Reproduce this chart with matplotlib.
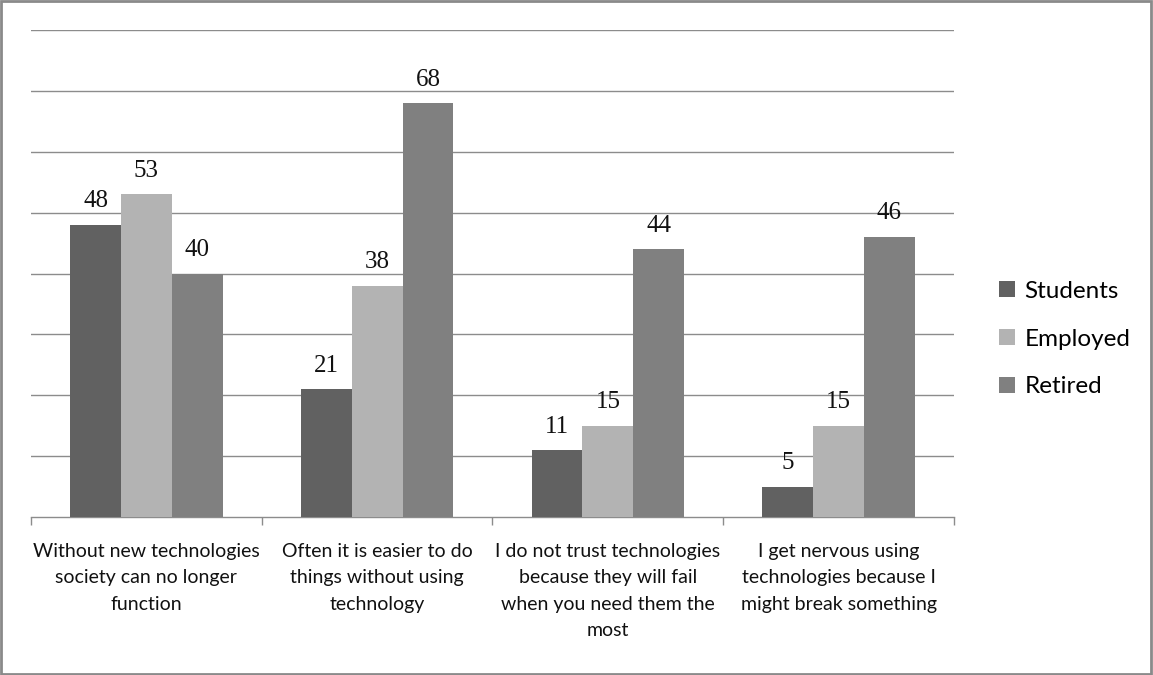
import matplotlib
matplotlib.use("Agg")
import matplotlib.pyplot as plt
from matplotlib.patches import Patch, Rectangle
import numpy as np

categories = [
    "Without new technologies\nsociety can no longer\nfunction",
    "Often it is easier to do\nthings without using\ntechnology",
    "I do not trust technologies\nbecause they will fail\nwhen you need them the\nmost",
    "I get nervous using\ntechnologies because I\nmight break something",
]
series_names = ["Students", "Employed", "Retired"]
students = [48, 21, 11, 5]
employed = [53, 38, 15, 15]
retired = [40, 68, 44, 46]
colors = ["#616161", "#b3b3b3", "#808080"]

fig = plt.figure(figsize=(11.53, 6.75), dpi=100)
ax = fig.add_axes([31 / 1153, 1 - 517 / 675, (954 - 31) / 1153, (517 - 30) / 675])

x = np.arange(len(categories))
bar_w = 0.22
values = [students, employed, retired]
for i, (vals, col) in enumerate(zip(values, colors)):
    pos = x + (i - 1) * bar_w
    bars = ax.bar(pos, vals, width=bar_w, color=col, zorder=3)
    for b, v in zip(bars, vals):
        ax.annotate(str(v), (b.get_x() + b.get_width() / 2, v),
                    xytext=(0, 9), textcoords="offset points",
                    ha="center", va="bottom", fontsize=18,
                    family="Liberation Serif", color="#111111")

ax.set_xlim(-0.5, len(categories) - 0.5)
ax.set_ylim(0, 80)
ax.set_yticks(np.arange(10, 81, 10))
ax.yaxis.grid(True, color="#8c8c8c", linewidth=1.0, zorder=0)
ax.tick_params(axis="y", left=False, labelleft=False)

ax.set_xticks(x)
ax.set_xticklabels(categories, fontsize=14, family="Lato", color="#111111",
                   linespacing=1.65, va="top")
ax.tick_params(axis="x", which="major", length=0, pad=19)
ax.set_xticks(np.arange(-0.5, len(categories), 1.0), minor=True)
ax.tick_params(axis="x", which="minor", length=6, color="#8c8c8c", width=1)

for side in ["top", "right", "left"]:
    ax.spines[side].set_visible(False)
ax.spines["bottom"].set_color("#8c8c8c")
ax.spines["bottom"].set_linewidth(1.0)

handles = [Patch(facecolor=c, label=n) for c, n in zip(colors, series_names)]
fig.legend(handles=handles, loc="center left", bbox_to_anchor=(987 / 1153, 1 - 339 / 675),
           frameon=False, prop={"family": "Lato", "size": 17.5},
           handlelength=0.65, handleheight=0.65, handletextpad=0.4,
           labelspacing=1.1, borderpad=0)

fig.patches.append(Rectangle((0.001, 0.002), 0.997, 0.996, transform=fig.transFigure,
                             fill=False, edgecolor="#8a8a8a", linewidth=2.0))

fig.savefig("out.png", dpi=100, facecolor="white")
